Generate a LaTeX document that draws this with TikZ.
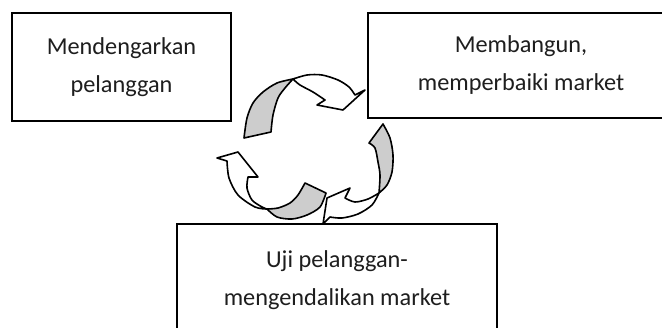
\documentclass[tikz,border=0pt]{standalone}
\usepackage{fontspec}
\setmainfont{Carlito}
\usepackage{tikz}
\usepackage{xcolor}
\definecolor{ribbongrey}{RGB}{205,205,205}
\definecolor{textdark}{RGB}{30,30,30}

\begin{document}
\begin{tikzpicture}[x=1pt, y=-1pt, font=\fontsize{24.3}{38}\selectfont,
    box/.style={draw, line width=2pt, fill=white, inner sep=0pt, align=center, text=textdark},
    ribbon/.style={draw, line width=1.6pt, line join=round}]
            \useasboundingbox (0,0) rectangle (662,327);
            \clip (0,0) rectangle (662,327);

            \node[box, minimum width=219pt, minimum height=108pt] (listen) at (121.5,67) {Mendengarkan\\pelanggan};
            \node[box, minimum width=306pt, minimum height=105pt] (build) at (521,65.5) {Membangun,\\memperbaiki market};
            \node[box, minimum width=320pt, minimum height=112pt] (test) at (337,280) {Uji pelanggan-\\mengendalikan market};

            \draw[ribbon, fill=ribbongrey] plot[smooth] coordinates {(244,138) (247,118) (253,103) (263,92) (277,83) (293,79)}
                -- plot[smooth] coordinates {(293,79) (285,88) (278,98) (273,115) (271,132)} -- cycle;
            \draw[ribbon, fill=white] plot[smooth] coordinates {(293,79) (307,75) (322,75) (338,80) (349,87) (355,95)}
                -- (365,90) -- (343,110) -- (317,105) -- (325,100)
                -- plot[smooth] coordinates {(325,100) (313,92) (300,85) (293,79)} -- cycle;

            \draw[ribbon, fill=ribbongrey] plot[smooth] coordinates {(383,124) (390,138) (393,155) (392,172) (387,185) (379,193)}
                -- plot[smooth] coordinates {(379,193) (380,175) (378,162) (375,148) (369,143)} -- cycle;
            \draw[ribbon, fill=white] plot[smooth] coordinates {(379,193) (372,205) (358,214) (342,218) (330,217)}
                -- (323,224) -- (327,198) -- (350,188) -- (345,198)
                -- plot[smooth] coordinates {(345,198) (355,202) (368,199) (379,193)} -- cycle;

            \draw[ribbon, fill=ribbongrey] plot[smooth] coordinates {(326,193) (320,207) (307,215) (292,219) (277,217) (267,209)}
                -- plot[smooth] coordinates {(267,209) (278,208) (290,203) (298,195) (305,183)} -- cycle;
            \draw[ribbon, fill=white] plot[smooth] coordinates {(267,209) (255,207) (238,195) (229,178) (227,161)}
                -- (217,158) -- (238,152) -- (258,177) -- (248,177)
                -- plot[smooth] coordinates {(248,177) (247,188) (252,200) (262,207) (267,209)} -- cycle;
        \end{tikzpicture}
\end{document}
